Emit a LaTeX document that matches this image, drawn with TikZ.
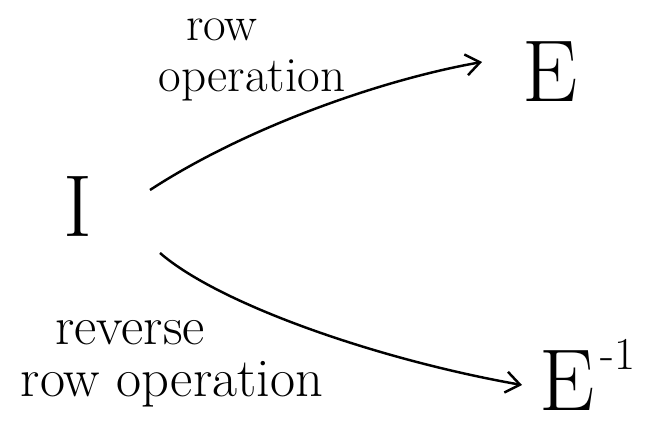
\documentclass[tikz,border=0pt]{standalone}
\usepackage{fontspec}
\usetikzlibrary{arrows.meta}
\begin{document}
\begin{tikzpicture}[x=0.02cm,y=-0.02cm]
      \useasboundingbox (0,0) rectangle (657,428);

      \begin{scope}[every node/.style={font=\fontsize{50}{52}\selectfont,inner sep=0pt}]
        \node (I)  at (78,207)  {I};
        \node (E)  at (550,72)  {E};
        \node (Ei) at (567,381) {E};
        \node[font=\fontsize{26}{26}\selectfont,anchor=west] (Em) at (600,354) {-1};
      \end{scope}

      \begin{scope}[every node/.style={font=\fontsize{28}{34}\selectfont,inner sep=0pt}]
        \node (top1) at (222,30)  {row};
        \node (top2) at (252,80)  {operation};
      \end{scope}
      \begin{scope}[every node/.style={font=\fontsize{31}{36}\selectfont,inner sep=0pt}]
        \node (bot1) at (130,333) {reverse};
        \node (bot2) at (172,384) {row operation};
      \end{scope}

      \begin{scope}[line width=1.4pt,-{Straight Barb[length=8pt,width=12pt]}]
        \coordinate (a1) at (150,190);
        \coordinate (b1) at (482,62);
        \coordinate (a2) at (160,253);
        \coordinate (b2) at (522,385);
        \draw (a1) .. controls (245,128) and (380,80) .. (b1);
        \draw (a2) .. controls (220,305) and (380,360) .. (b2);
      \end{scope}

    \end{tikzpicture}
\end{document}
